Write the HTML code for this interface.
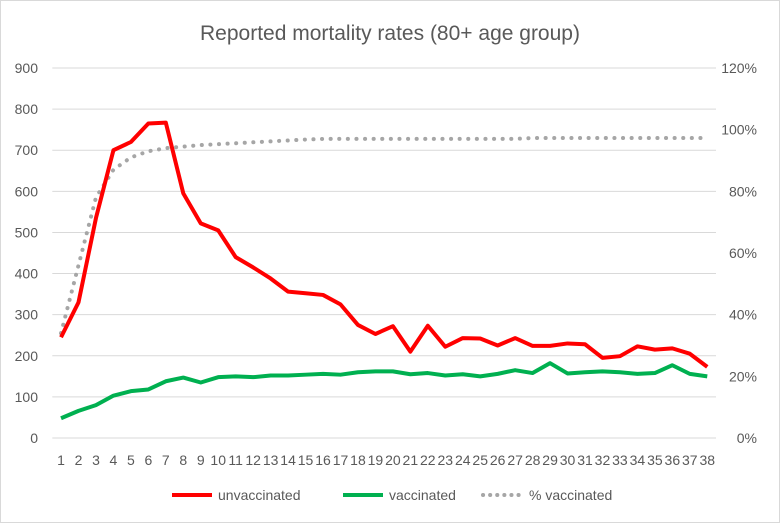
<!DOCTYPE html>
<html><head><meta charset="utf-8"><style>
body{margin:0;background:#fff;}
svg{display:block;font-family:"Liberation Sans",sans-serif;}
</style></head><body>
<svg id="chart" width="780" height="523">
<rect x="0.5" y="0.5" width="779" height="522" fill="#fff" stroke="#d9d9d9"/>
<text x="390" y="40" text-anchor="middle" font-size="21" fill="#595959">Reported mortality rates (80+ age group)</text>
<g id="grid"></g><g id="axes"></g><g id="series"></g>
<g>
<g><line x1="172" y1="495" x2="212" y2="495" stroke="#ff0000" stroke-width="4"/><text x="218" y="500" font-size="14" fill="#595959">unvaccinated</text></g>
<g><line x1="343" y1="495" x2="383" y2="495" stroke="#00b050" stroke-width="4"/><text x="389" y="500" font-size="14" fill="#595959">vaccinated</text></g>
<g><line x1="483" y1="495" x2="523" y2="495" stroke="#a6a6a6" stroke-width="4" stroke-dasharray="0.1 7" stroke-linecap="round"/><text x="529" y="500" font-size="14" fill="#595959">% vaccinated</text></g>
</g>
</svg>
<script>
const categories=[];for(let i=1;i<=38;i++)categories.push(String(i));
const unvaccinated=[245,330,535,700,720,765,767,595,522,505,440,415,388,356,352,348,325,275,253,272,210,273,222,243,242,225,243,224,224,230,228,195,199,223,215,218,205,173];
const vaccinated=[48,66,80,103,114,118,138,147,135,148,150,148,152,152,154,156,154,160,162,162,155,158,152,155,150,156,165,158,182,157,160,162,160,156,158,177,156,150];
const pctVaccinated=[34,56,78,87,91,93,94,94.5,95,95.3,95.6,95.9,96.2,96.5,96.8,97,97,97,97,97,97,97,97,97,97,97,97,97.3,97.3,97.3,97.3,97.3,97.3,97.3,97.3,97.3,97.3,97.3];
const leftTicks=[0,100,200,300,400,500,600,700,800,900];
const rightTicks=[0,20,40,60,80,100,120];
const NS="http://www.w3.org/2000/svg";
const L=52.3,R=716,T=68,B=438;
const step=(R-L)/categories.length;
const x=i=>L+step*(i+0.5);
const yL=v=>B-(v/900)*(B-T);
const yR=v=>B-(v/120)*(B-T);
function mk(tag,attrs,parent){const e=document.createElementNS(NS,tag);for(const k in attrs)e.setAttribute(k,attrs[k]);parent.appendChild(e);return e;}
const grid=document.getElementById('grid'),axes=document.getElementById('axes'),series=document.getElementById('series');
leftTicks.forEach(v=>{
 const g=mk('line',{x1:L,x2:R,y1:yL(v),y2:yL(v),stroke:'#d9d9d9','stroke-width':1},grid);
 
 
 const t=mk('text',{x:38,y:yL(v)+5,'text-anchor':'end','font-size':14,fill:'#595959'},axes);
 t.textContent=v;
 
 
});
rightTicks.forEach(v=>{
 const t=mk('text',{x:757,y:yR(v)+5,'text-anchor':'end','font-size':14,fill:'#595959'},axes);
 t.textContent=v+'%';
 
 
});
categories.forEach((c,i)=>{
 const t=mk('text',{x:x(i),y:465,'text-anchor':'middle','font-size':14,fill:'#595959'},axes);
 t.textContent=c;
 
 
});
function line(vals,yf,attrs,name){
 const p=mk('polyline',Object.assign({points:vals.map((v,i)=>x(i)+','+yf(v)).join(' '),fill:'none','stroke-linejoin':'round'},attrs),series);
 
 
}
line(pctVaccinated,yR,{stroke:'#a6a6a6','stroke-width':4,'stroke-dasharray':'0.1 8.5','stroke-linecap':'round'},'pct-vaccinated-line');
line(vaccinated,yL,{stroke:'#00b050','stroke-width':4},'vaccinated-line');
line(unvaccinated,yL,{stroke:'#ff0000','stroke-width':4},'unvaccinated-line');
</script>
</body></html>
